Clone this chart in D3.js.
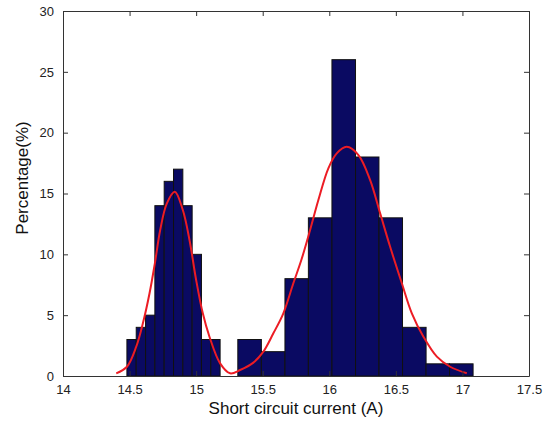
<!DOCTYPE html>
<html>
<head>
<meta charset="utf-8">
<script src="https://cdn.jsdelivr.net/npm/d3@7"></script>
<style>
  body { margin: 0; background: #fff; }
  text { font-family: Arial, "Liberation Sans", sans-serif; }
</style>
</head>
<body>
<div id="container"></div>
<script>
/* CONSTANTS AND GLOBALS */
const width = 546,
  height = 423,
  margin = { top: 11, bottom: 47, left: 63, right: 17 }

// left cluster histogram
const edgesA = [14.48, 14.55, 14.62, 14.69, 14.76, 14.83, 14.90, 14.97, 15.04, 15.11, 15.18]
const countsA = [3, 4, 5, 14, 16, 17, 14, 10, 3, 3]
// right cluster histogram
const edgesB = [15.313, 15.49, 15.667, 15.843, 16.02, 16.197, 16.373, 16.55, 16.727, 16.903, 17.08]
const countsB = [3, 2, 8, 13, 26, 18, 13, 4, 1, 1]

// fitted curve
const curveX = [14.40, 14.48, 14.55, 14.60, 14.65, 14.69, 14.73, 14.78, 14.84, 14.90, 14.95, 15.00,
  15.05, 15.10, 15.18, 15.255, 15.33, 15.43, 15.505, 15.58, 15.655, 15.73, 15.79, 15.856,
  15.918, 15.993, 16.056, 16.131, 16.219, 16.307, 16.382, 16.457, 16.545, 16.62, 16.707,
  16.808, 16.908, 17.033]
const curveY = [0.22, 0.76, 2.41, 4.33, 6.8, 9.26, 12.0, 14.19, 15.15, 13.64, 11.18, 7.89,
  5.15, 3.23, 1.04, 0.22, 0.49, 1.1, 2.0, 3.51, 5.15, 7.62, 9.53, 12.0,
  14.46, 17.07, 18.3, 18.84, 18.16, 16.1, 13.37, 10.62, 7.62, 5.15, 3.23,
  1.59, 0.76, 0.22]

const xTicks = [14, 14.5, 15, 15.5, 16, 16.5, 17, 17.5]
const xTickLabels = ["14", "14.5", "15", "15.5", "16", "16.5", "17", "17.5"]
const yTicks = [0, 5, 10, 15, 20, 25, 30]

/* SCALES */
const xScale = d3.scaleLinear()
  .domain([14, 17.5])
  .range([margin.left, width - margin.right])

const yScale = d3.scaleLinear()
  .domain([0, 30])
  .range([height - margin.bottom, margin.top])

/* HTML ELEMENTS */
const svg = d3.select("#container")
  .append("svg")
  .attr("width", width)
  .attr("height", height)

const bars = []
countsA.forEach((c, i) => bars.push({ x0: edgesA[i], x1: edgesA[i + 1], v: c }))
countsB.forEach((c, i) => bars.push({ x0: edgesB[i], x1: edgesB[i + 1], v: c }))

// bars
svg.selectAll("rect.bar")
  .data(bars)
  .join("rect")
  .attr("class", "bar")
  .attr("x", d => xScale(d.x0))
  .attr("y", d => yScale(d.v))
  .attr("width", d => xScale(d.x1) - xScale(d.x0))
  .attr("height", d => yScale(0) - yScale(d.v))
  .style("fill", "#0a0a62")
  .style("stroke", "#111")
  .style("stroke-width", 1)

// red curve
const line = d3.line()
  .x((d, i) => xScale(curveX[i]))
  .y(d => yScale(d))
  .curve(d3.curveCatmullRom)

svg.append("path")
  .datum(curveY)
  .attr("d", line)
  .style("fill", "none")
  .style("stroke", "#ec1c24")
  .style("stroke-width", 2)

// axes (ticks inside, box on)
const xAxis = d3.axisBottom(xScale).tickValues(xTicks)
  .tickFormat((d, i) => xTickLabels[i]).tickSizeInner(-5).tickSizeOuter(0).tickPadding(9)
const yAxis = d3.axisLeft(yScale).tickValues(yTicks).tickSizeInner(-5).tickSizeOuter(0).tickPadding(9)

svg.append("g")
  .attr("transform", `translate(0,${height - margin.bottom})`)
  .call(xAxis)
  .call(g => g.selectAll("text").style("font-size", "13px").style("fill", "#222"))

svg.append("g")
  .attr("transform", `translate(${margin.left},0)`)
  .call(yAxis)
  .call(g => g.selectAll("text").style("font-size", "13px").style("fill", "#222"))

svg.append("g")
  .attr("transform", `translate(0,${margin.top})`)
  .call(d3.axisTop(xScale).tickValues(xTicks).tickSizeInner(-5).tickSizeOuter(0).tickFormat(""))

svg.append("g")
  .attr("transform", `translate(${width - margin.right},0)`)
  .call(d3.axisRight(yScale).tickValues(yTicks).tickSizeInner(-5).tickSizeOuter(0).tickFormat(""))

svg.selectAll(".domain, .tick line").style("stroke", "#333")

// labels
svg.append("text")
  .attr("x", (margin.left + width - margin.right) / 2)
  .attr("y", 414)
  .attr("text-anchor", "middle")
  .style("font-size", "17px")
  .style("fill", "#111")
  .text("Short circuit current (A)")

svg.append("text")
  .attr("transform", `translate(28,${178}) rotate(-90)`)
  .attr("text-anchor", "middle")
  .style("font-size", "17px")
  .style("fill", "#111")
  .text("Percentage(%)")
</script>
</body>
</html>
